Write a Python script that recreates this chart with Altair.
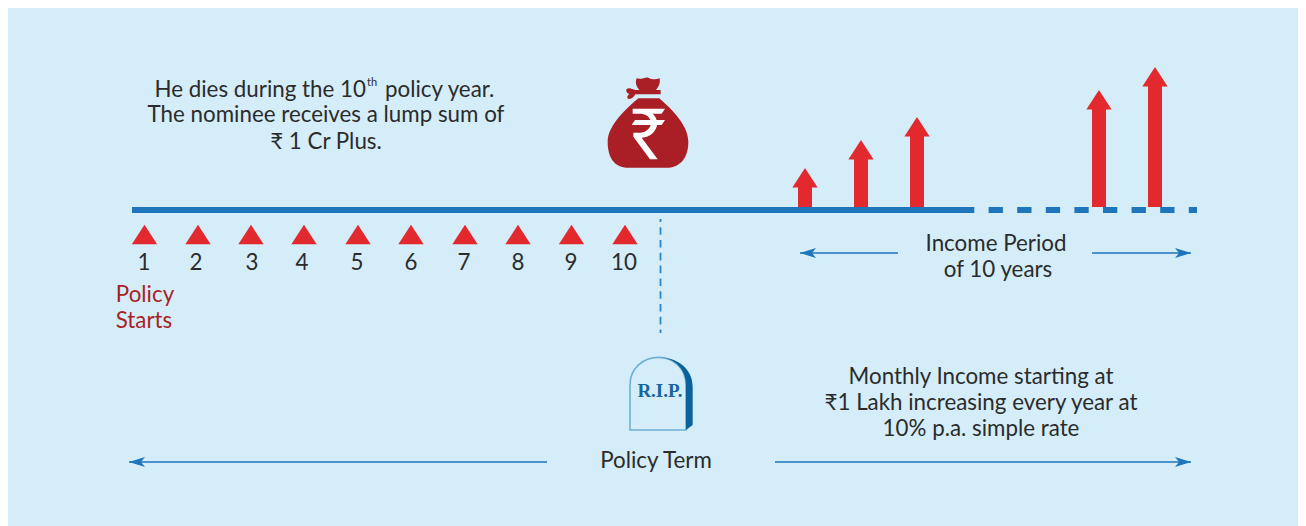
import re
import altair as alt
import pandas as pd

BG = "#d4edf9"
BLUE = "#1f75bc"
RED = "#e2292d"
DARKRED = "#aa1f25"
INK = "#2b2b2b"
FONT = "Lato"
FS = 22.35

# timeline
solid_x = [132, 971]
dash_x = [960, 1197]
line_y = [210]

# income arrows
arrow_x = [805, 861, 917, 1099, 1155]
arrow_tip = [168, 140, 117, 90, 67]
arrow_base = [207, 207, 207, 207, 207]

# policy-year markers
years = ["1", "2", "3", "4", "5", "6", "7", "8", "9", "10"]
year_mark_x = [144.5, 198, 251, 304, 358, 411, 465, 518, 571.5, 625]
year_label_x = [144, 196, 252, 302, 357, 411, 464, 518, 571, 624]
year_mark_y = [234.5] * 10
year_label_y = [262] * 10

# thin double-headed spans: start, end, y
span_x1 = [800, 1092, 129, 775]
span_x2 = [898, 1191, 547, 1191]
span_y = [253, 253, 462, 462]
left_heads_x = [808, 137]
left_heads_y = [253, 462]
right_heads_x = [1183, 1183]
right_heads_y = [253, 462]

# dotted drop line
drop_x = [660.5]
drop_y = [219, 333]

# texts
texts = [
    "The nominee receives a lump sum of", "₹ 1 Cr Plus.",
    "Income Period", "of 10 years",
    "Monthly Income starting at", "₹1 Lakh increasing every year at", "10% p.a. simple rate",
    "Policy Term",
]
text_x = [326, 326, 996, 998, 981, 981, 981, 656]
text_y = [114, 141, 243, 269, 376, 402, 428, 460]

head_left = "He dies during the 10"
head_sup = "th"
head_right = "policy year."
head_y = [89]
head_left_x = [366]
head_sup_x = [367]
head_sup_y = [82]
head_right_x = [385]

red_texts = ["Policy", "Starts"]
red_x = [145, 144]
red_y = [294, 320]


def unit(path, cx, cy, half):
    """Normalise an icon outline to the -1..1 box that a custom symbol uses."""
    is_x = True
    def repl(m):
        nonlocal is_x
        v = float(m.group(0))
        r = (v - cx) / half if is_x else (v - cy) / half
        is_x = not is_x
        return f"{r:.4f}"
    return re.sub(r"-?\d+\.?\d*", repl, path)


# icon outlines, written in 3x crop coordinates
BAG = (
    "M235,115 L298,115 C320,135 385,190 385,245 C385,300 355,323 320,323 L205,323 "
    "C165,323 143,295 143,245 C143,195 205,140 235,115 Z "
    "M230,55 C245,60 255,50 265,53 C275,58 285,60 299,55 C302,72 294,82 288,90 L238,90 C230,80 224,70 230,55 Z "
    "M226,90 L302,90 L302,103 L226,103 C222,110 215,118 206,117 C198,113 204,105 208,102 "
    "C202,100 196,94 200,87 C208,82 218,88 226,90 Z"
)
RUPEE = (
    "M218,146 L315,146 L305,161 L278,161 C284,167 288,173 290,180 L315,180 L305,195 L291,195 "
    "C288,215 270,232 245,233 L293,298 L270,298 L220,230 L220,218 L240,218 C255,218 268,208 272,195 "
    "L215,195 L225,180 L271,180 C267,168 255,161 240,161 L218,161 Z"
)
STONE = "M120,270 L120,135 C120,85 160,52 205,52 C250,52 288,85 288,135 L288,270 Z"
STONE_SIDE = "M205,52 C260,52 308,85 308,140 L308,255 L288,270 L288,135 C288,85 250,52 205,52 Z"

bag_path = unit(BAG, 264, 189, 150)
rupee_path = unit(RUPEE, 264, 189, 150)
stone_path = unit(STONE, 210, 165, 150)
stone_side_path = unit(STONE_SIDE, 210, 165, 150)
TRI = "M0,-0.77L1,0.77L-1,0.77Z"
ARROW_R = "M1,0L-1,-0.625L-0.5,0L-1,0.625Z"
ARROW_L = "M-1,0L1,-0.625L0.5,0L1,0.625Z"

bag_at = pd.DataFrame({"x": [648], "y": [123]})
stone_at = pd.DataFrame({"x": [660], "y": [395]})

xs = alt.Scale(domain=[8, 1298], range=[0, 1290])
ys = alt.Scale(domain=[8, 526], range=[0, 518])
X = lambda f="x": alt.X(f"{f}:Q", scale=xs, axis=None)
Y = lambda f="y": alt.Y(f"{f}:Q", scale=ys, axis=None)


def txt(df, **kw):
    opts = dict(font=FONT, fontSize=FS, color=INK, baseline="middle", align="center", dy=1)
    opts.update(kw)
    return alt.Chart(df).mark_text(**opts).encode(x=X(), y=Y(), text="t:N")


arrows = pd.DataFrame({"x": arrow_x, "tip": arrow_tip, "base": arrow_base})
arrows["top"] = arrows["tip"] + 18
arrows["head"] = arrows["tip"] + 9.75

layers = [
    alt.Chart(pd.DataFrame({"x": [dash_x[0]], "x2": [dash_x[1]], "y": line_y}))
    .mark_rule(color=BLUE, strokeWidth=6, strokeDash=[14.3, 14.3])
    .encode(x=X(), x2="x2:Q", y=Y()),
    alt.Chart(pd.DataFrame({"x": [solid_x[0]], "x2": [solid_x[1]], "y": line_y}))
    .mark_rule(color=BLUE, strokeWidth=6)
    .encode(x=X(), x2="x2:Q", y=Y()),
    alt.Chart(arrows).mark_rule(color=RED, strokeWidth=14).encode(x=X(), y=Y("top"), y2="base:Q"),
    alt.Chart(arrows)
    .mark_point(shape=TRI, filled=True, color=RED, size=640, opacity=1, strokeWidth=0)
    .encode(x=X(), y=Y("head")),
    alt.Chart(pd.DataFrame({"x": year_mark_x, "y": year_mark_y}))
    .mark_point(shape=TRI, filled=True, color=RED, size=640, opacity=1, strokeWidth=0)
    .encode(x=X(), y=Y()),
    txt(pd.DataFrame({"x": year_label_x, "y": year_label_y, "t": years})),
    alt.Chart(pd.DataFrame({"x": span_x1, "x2": span_x2, "y": span_y}))
    .mark_rule(color=BLUE, strokeWidth=1.5)
    .encode(x=X(), x2="x2:Q", y=Y()),
    alt.Chart(pd.DataFrame({"x": left_heads_x, "y": left_heads_y}))
    .mark_point(shape=ARROW_L, filled=True, color=BLUE, size=256, opacity=1, strokeWidth=0)
    .encode(x=X(), y=Y()),
    alt.Chart(pd.DataFrame({"x": right_heads_x, "y": right_heads_y}))
    .mark_point(shape=ARROW_R, filled=True, color=BLUE, size=256, opacity=1, strokeWidth=0)
    .encode(x=X(), y=Y()),
    alt.Chart(pd.DataFrame({"x": drop_x, "y": [drop_y[0]], "y2": [drop_y[1]]}))
    .mark_rule(color="#2f86c6", strokeWidth=1.8, strokeDash=[7.6, 5.2], strokeDashOffset=4.6)
    .encode(x=X(), y=Y(), y2="y2:Q"),
    alt.Chart(bag_at)
    .mark_point(shape=bag_path, filled=True, color=DARKRED, size=10000, opacity=1, strokeWidth=0)
    .encode(x=X(), y=Y()),
    alt.Chart(bag_at)
    .mark_point(shape=rupee_path, filled=True, color="#ffffff", size=10000, opacity=1, strokeWidth=0)
    .encode(x=X(), y=Y()),
    alt.Chart(stone_at)
    .mark_point(shape=stone_path, filled=False, color="#6fb0d4", size=10000, opacity=1, strokeWidth=1.6)
    .encode(x=X(), y=Y()),
    alt.Chart(stone_at)
    .mark_point(shape=stone_side_path, filled=True, color="#0b619b", size=10000, opacity=1, strokeWidth=0)
    .encode(x=X(), y=Y()),
    txt(pd.DataFrame({"x": [660], "y": [390], "t": ["R.I.P."]}),
        font="Liberation Serif", fontWeight="bold", fontSize=19, color="#15659f", dy=1),
    txt(pd.DataFrame({"x": text_x, "y": text_y, "t": texts})),
    txt(pd.DataFrame({"x": red_x, "y": red_y, "t": red_texts}), color=DARKRED),
    txt(pd.DataFrame({"x": head_left_x, "y": head_y, "t": [head_left]}), align="right"),
    txt(pd.DataFrame({"x": head_sup_x, "y": head_sup_y, "t": [head_sup]}), align="left", fontSize=11),
    txt(pd.DataFrame({"x": head_right_x, "y": head_y, "t": [head_right]}), align="left"),
]

chart = (
    alt.layer(*layers)
    .properties(width=1290, height=518, background=BG, padding=0)
    .configure_view(stroke=None)
)
chart.save("out.html", embed_options={"renderer": "svg", "actions": False})
